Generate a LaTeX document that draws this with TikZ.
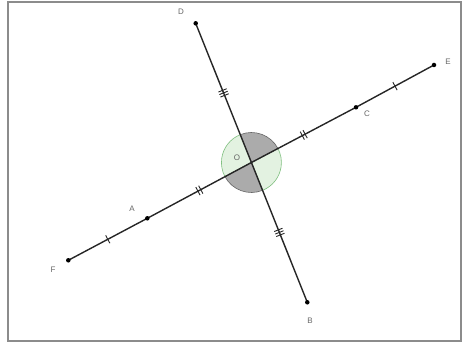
\documentclass[tikz,border=0pt]{standalone}
\usepackage{fontspec}
\setmainfont{Liberation Sans}
\usetikzlibrary{decorations.markings}
\definecolor{lblgray}{HTML}{666666}
\definecolor{sectgray}{HTML}{ABABAB}
\definecolor{anggreen}{HTML}{E3F2E1}
\definecolor{arcgreen}{HTML}{7FBF7F}
\tikzset{
  x=1pt, y=1pt,
  seg/.style={line width=1.4pt, draw=black!85},
  pt/.style={circle, fill=black, inner sep=0pt, minimum size=4.5pt},
  lbl/.style={text=lblgray, font=\fontsize{8}{9}\selectfont, inner sep=0pt},
  tickone/.style={postaction={decorate}, decoration={markings,
    mark=at position 0.5 with {\draw[line width=0.9pt] (0,-4.5pt)--(0,4.5pt);}}},
  ticktwo/.style={postaction={decorate}, decoration={markings,
    mark=at position 0.5 with {\draw[line width=0.9pt] (-1.6pt,-4.5pt)--(-1.6pt,4.5pt) (1.6pt,-4.5pt)--(1.6pt,4.5pt);}}},
  tickthree/.style={postaction={decorate}, decoration={markings,
    mark=at position 0.5 with {\draw[line width=0.9pt] (-2.7pt,-4.5pt)--(-2.7pt,4.5pt) (0pt,-4.5pt)--(0pt,4.5pt) (2.7pt,-4.5pt)--(2.7pt,4.5pt);}}},
}
\begin{document}
\begin{tikzpicture}
\useasboundingbox (0,0) rectangle (463,345);
\draw[draw=black!45, line width=1.6pt] (8,4) rectangle (461,343);
\coordinate (D) at (195.7,321.7);
\coordinate (B) at (307.3,42.7);
\coordinate (E) at (434,280);
\coordinate (F) at (68.3,84.7);
\coordinate (A) at (147.3,126.7);
\coordinate (C) at (356,237.7);
\coordinate (O) at (intersection of F--E and D--B);
% angle sectors
\filldraw[fill=anggreen, draw=arcgreen, line width=0.6pt] (O) -- +(111.8:30) arc[start angle=111.8, end angle=208.1, radius=30] -- cycle;
\filldraw[fill=anggreen, draw=arcgreen, line width=0.6pt] (O) -- +(291.8:30) arc[start angle=291.8, end angle=388.1, radius=30] -- cycle;
\filldraw[fill=sectgray, draw=black!60, line width=0.6pt] (O) -- +(28.1:30) arc[start angle=28.1, end angle=111.8, radius=30] -- cycle;
\filldraw[fill=sectgray, draw=black!60, line width=0.6pt] (O) -- +(208.1:30) arc[start angle=208.1, end angle=291.8, radius=30] -- cycle;
% segments
\draw[seg, tickone] (F) -- (A);
\draw[seg, ticktwo] (A) -- (O);
\draw[seg, ticktwo] (O) -- (C);
\draw[seg, tickone] (C) -- (E);
\draw[seg, tickthree] (D) -- (O);
\draw[seg, tickthree] (O) -- (B);
% points
\node[pt] (pD) at (D) {};
\node[pt] (pB) at (B) {};
\node[pt] (pE) at (E) {};
\node[pt] (pF) at (F) {};
\node[pt] (pA) at (A) {};
\node[pt] (pC) at (C) {};
% labels
\node[lbl] (lD) at (181,333) {D};
\node[lbl] (lB) at (310,24) {B};
\node[lbl] (lE) at (448,283) {E};
\node[lbl] (lF) at (53,75) {F};
\node[lbl] (lA) at (132,136) {A};
\node[lbl] (lC) at (367,231) {C};
\node[lbl] (lO) at (237,187) {O};
\end{tikzpicture}
\end{document}
